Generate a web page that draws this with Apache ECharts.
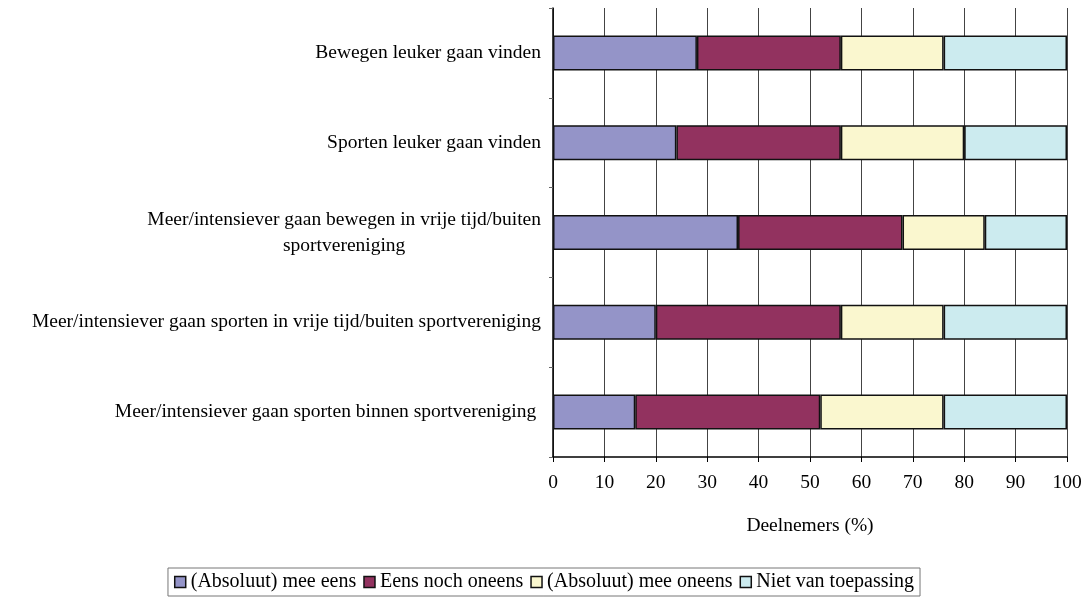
<!DOCTYPE html>
<html>
<head>
<meta charset="utf-8">
<script src="https://cdn.jsdelivr.net/npm/echarts@6/dist/echarts.min.js"></script>
<style>
  html, body { margin: 0; padding: 0; background: #fff; }
  #main { width: 1088px; height: 597px; }
</style>
</head>
<body>
<div id="main"></div>
<script>
  // categorieën (van boven naar beneden)
  var categories = [
    'Bewegen leuker gaan vinden',
    'Sporten leuker gaan vinden',
    'Meer/intensiever gaan bewegen in vrije tijd/buiten\nsportvereniging',
    'Meer/intensiever gaan sporten in vrije tijd/buiten sportvereniging',
    'Meer/intensiever gaan sporten binnen sportvereniging '
  ];
  var seriesNames = ['(Absoluut) mee eens', 'Eens noch oneens', '(Absoluut) mee oneens', 'Niet van toepassing'];
  var meeEens = [28, 24, 36, 20, 16];
  var noch = [28, 32, 32, 36, 36];
  var oneens = [20, 24, 16, 20, 24];
  var nvt = [24, 20, 16, 24, 24];
  var xTicks = [0, 10, 20, 30, 40, 50, 60, 70, 80, 90, 100];
  var colors = ['#9494c8', '#92325f', '#faf7cf', '#ccebef'];

  var myChart = echarts.init(document.getElementById('main'));
  var font = 'Liberation Serif';
  var values = [meeEens, noch, oneens, nvt];

  var series = [];
  for (var i = 0; i < 4; i++) {
    series.push({
      name: seriesNames[i],
      type: 'bar',
      stack: 'totaal',
      barWidth: 35,
      data: values[i],
      itemStyle: { color: colors[i], borderColor: '#111', borderWidth: 1.5 }
    });
  }

  var option = {
    animation: false,
    textStyle: { fontFamily: font, color: '#000' },
    grid: { left: 553, right: 21, top: 8, bottom: 140 },
    legend: {
      bottom: 1,
      left: 'center',
      itemWidth: 11,
      itemHeight: 11,
      itemGap: 7,
      icon: 'rect',
      borderColor: '#777',
      borderWidth: 1,
      padding: [4, 6],
      textStyle: { fontFamily: font, fontSize: 20, color: '#000' },
      data: seriesNames.map(function (n, k) {
        return { name: n, itemStyle: { color: colors[k], borderColor: '#111', borderWidth: 1.5 } };
      })
    },
    xAxis: {
      type: 'value',
      min: xTicks[0],
      max: xTicks[xTicks.length - 1],
      interval: 10,
      name: 'Deelnemers (%)',
      nameLocation: 'middle',
      nameGap: 59,
      nameTextStyle: { fontFamily: font, fontSize: 19.5, color: '#000' },
      axisLine: { show: true, lineStyle: { color: '#000', width: 1.5 } },
      axisTick: { show: true, length: 5, lineStyle: { color: '#000' } },
      axisLabel: { fontFamily: font, fontSize: 19.5, color: '#000', margin: 16 },
      splitLine: { show: true, lineStyle: { color: '#444', width: 1 } }
    },
    yAxis: {
      type: 'category',
      inverse: true,
      data: categories,
      axisLine: { show: true, lineStyle: { color: '#000', width: 1.5 } },
      axisTick: { show: true, length: 4, lineStyle: { color: '#666' } },
      axisLabel: {
        fontFamily: font, fontSize: 19.5, color: '#000', margin: 12, align: 'right', lineHeight: 26,
        // afgebroken labels: tweede regel gecentreerd zoals in Excel
        formatter: function (v) {
          var parts = v.split('\n');
          if (parts.length < 2) return v;
          return parts.map(function (p) { return '{c|' + p + '}'; }).join('\n');
        },
        rich: {
          c: { fontFamily: font, fontSize: 19.5, color: '#000', align: 'center', lineHeight: 26 }
        }
      }
    },
    series: series
  };
  myChart.setOption(option);
</script>
</body>
</html>
